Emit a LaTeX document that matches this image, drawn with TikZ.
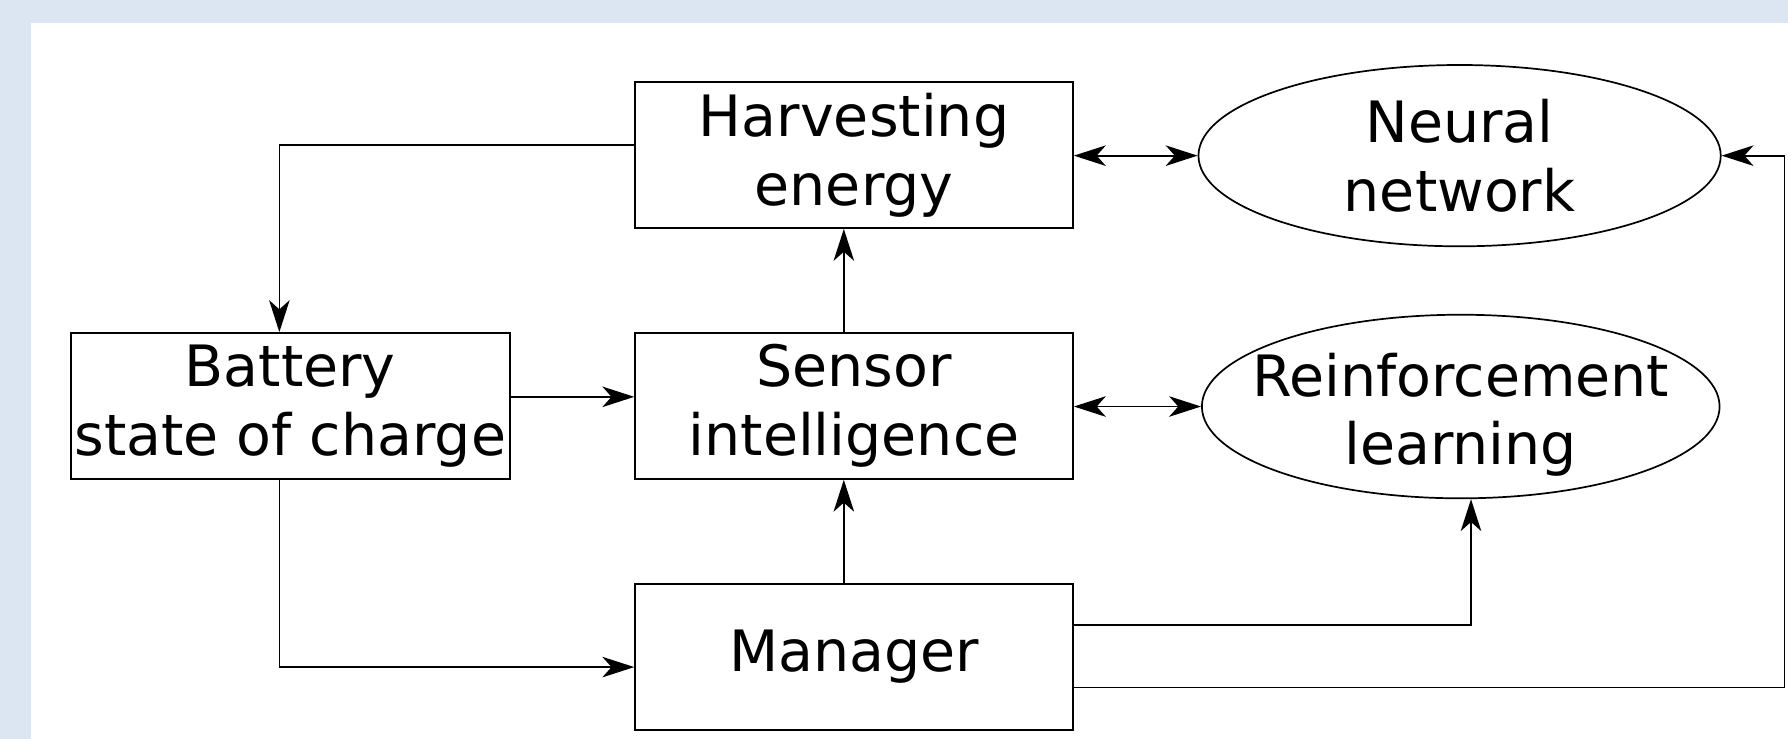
\documentclass[tikz,border=0pt]{standalone}
\usepackage{fontspec}
\setmainfont{DejaVu Sans}
\usetikzlibrary{arrows.meta,shapes.geometric}
\definecolor{bgblue}{HTML}{DCE6F2}
\tikzset{
  boxnode/.style={draw, line width=0.75pt, rectangle, inner sep=0pt, minimum width=192pt, minimum height=64pt, align=center, font=\fontsize{25}{30}\selectfont},
  ellnode/.style={draw, line width=0.75pt, ellipse, inner sep=0pt},
  elltext/.style={align=center, inner sep=0pt, font=\fontsize{25}{30}\selectfont},
  conn/.style={line width=0.75pt, -{Stealth[length=14pt, width=9pt, inset=4pt]}},
  dconn/.style={line width=0.75pt, {Stealth[length=14pt, width=9pt, inset=4pt]}-{Stealth[length=14pt, width=9pt, inset=4pt]}},
}
\begin{document}
\begin{tikzpicture}[x=0.5pt,y=-0.5pt]
\useasboundingbox (0,0) rectangle (1568,648);
\fill[bgblue] (0,0) rectangle (1568,648);
\fill[white] (27,20) rectangle (1568,648);

\node[boxnode] (harv) at (749,136) {Harvesting\\energy};
\node[boxnode, minimum width=192.5pt] (bat) at (254.5,356) {Battery\\state of charge};
\node[boxnode] (sens) at (749,356) {Sensor\\intelligence};
\node[boxnode] (man) at (749,576) {Manager};

\node[ellnode, minimum width=229pt, minimum height=79.5pt] (nn) at (1280,136.5) {};
\node[elltext] (nntext) at (nn.center) {Neural\\network};
\node[ellnode, minimum width=227pt, minimum height=80.5pt] (rl) at (1281,356.5) {};
\node[elltext] (rltext) at ([yshift=-3.5pt]rl.center) {Reinforcement\\learning};

\coordinate (rr) at (1565,0);

\draw[conn] ([yshift=4.5pt]harv.west) -| ([xshift=-4.75pt]bat.north);
\draw[conn] ([yshift=4pt]bat.east) -- ([yshift=4pt]sens.west);
\draw[conn] ([xshift=-4.75pt]bat.south) |- ([yshift=-4.5pt]man.west);
\draw[conn] ([xshift=-4.5pt]sens.north) -- ([xshift=-4.5pt]harv.south);
\draw[conn] ([xshift=-4.5pt]man.north) -- ([xshift=-4.5pt]sens.south);
\draw[dconn] (harv.east |- nn.west) -- (nn.west);
\draw[dconn] (sens.east |- rl.west) -- (rl.west);
\draw[conn] ([yshift=14pt]man.east) -| ([xshift=4.5pt]rl.south);
\draw[conn] ([yshift=-13.5pt]man.east) -| (rr |- nn.east) -- (nn.east);
\end{tikzpicture}
\end{document}
